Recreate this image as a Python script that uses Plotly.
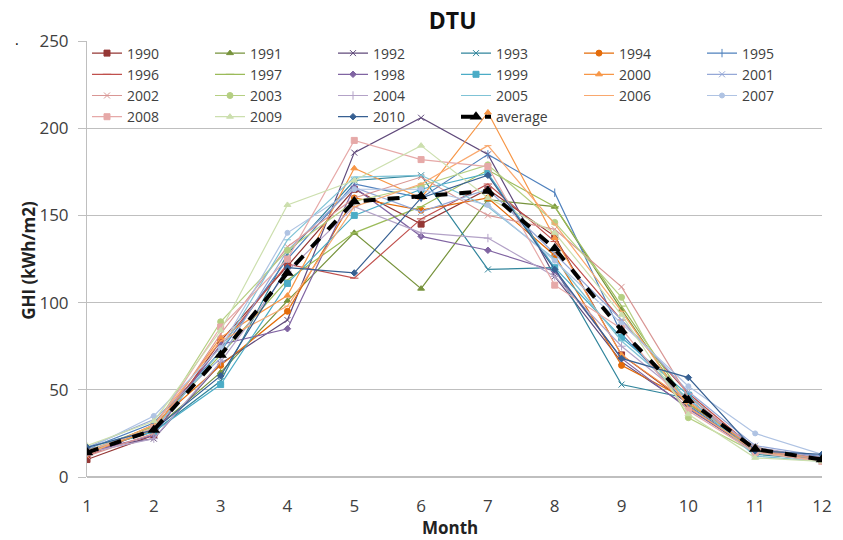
import plotly.graph_objects as go

months = list(range(1, 13))

y1990 = [10, 24, 78, 121, 165, 145, 165, 138, 70, 42, 16, 10]
y1991 = [14, 27, 60, 101, 140, 108, 159, 155, 96, 40, 15, 9]
y1992 = [16, 22, 65, 90, 186, 206, 185, 115, 66, 40, 14, 9]
y1993 = [15, 26, 55, 128, 170, 173, 119, 120, 53, 45, 13, 10]
y1994 = [13, 30, 64, 95, 160, 153, 160, 127, 64, 44, 17, 10]
y1995 = [16, 31, 72, 125, 168, 160, 185, 163, 82, 41, 15, 12]
y1996 = [12, 28, 75, 122, 114, 148, 168, 135, 90, 48, 16, 11]
y1997 = [15, 29, 70, 113, 140, 155, 176, 155, 98, 42, 17, 10]
y1998 = [14, 24, 76, 85, 166, 138, 130, 118, 68, 39, 15, 9]
y1999 = [15, 26, 53, 111, 150, 165, 174, 120, 80, 47, 14, 10]
y2000 = [14, 27, 80, 104, 177, 160, 209, 137, 70, 43, 16, 10]
y2001 = [17, 33, 68, 130, 166, 152, 165, 128, 90, 49, 18, 12]
y2002 = [12, 25, 82, 132, 160, 172, 150, 142, 109, 46, 16, 10]
y2003 = [15, 28, 89, 130, 158, 167, 179, 146, 103, 34, 14, 9]
y2004 = [14, 22, 66, 118, 155, 140, 137, 115, 75, 44, 17, 11]
y2005 = [17, 27, 72, 136, 172, 173, 155, 125, 78, 45, 12, 9]
y2006 = [13, 30, 78, 98, 155, 168, 190, 145, 95, 40, 15, 9]
y2007 = [16, 35, 74, 140, 165, 165, 156, 124, 88, 52, 25, 13]
y2008 = [15, 28, 86, 125, 193, 182, 178, 110, 85, 38, 14, 9]
y2009 = [18, 32, 84, 156, 170, 190, 160, 140, 93, 36, 11, 9]
y2010 = [17, 27, 58, 120, 117, 160, 173, 119, 68, 57, 15, 13]
average = [14, 27, 70, 117, 158, 161, 164, 131, 84, 44, 16, 10]

series = [
    ("1990", y1990, "#953735", "square", 6),
    ("1991", y1991, "#77933C", "triangle-up", 6),
    ("1992", y1992, "#604A7B", "x-thin-open", 6),
    ("1993", y1993, "#31859C", "x-thin-open", 6),
    ("1994", y1994, "#E46C0A", "circle", 6),
    ("1995", y1995, "#4F81BD", "line-ns-open", 6),
    ("1996", y1996, "#C0504D", "line-ew-open", 6),
    ("1997", y1997, "#9BBB59", "line-ew-open", 6),
    ("1998", y1998, "#8064A2", "diamond", 5),
    ("1999", y1999, "#4BACC6", "square", 6),
    ("2000", y2000, "#F79646", "triangle-up", 6),
    ("2001", y2001, "#95A8D7", "x-thin-open", 6),
    ("2002", y2002, "#D99694", "x-thin-open", 6),
    ("2003", y2003, "#B5CF82", "circle", 6),
    ("2004", y2004, "#B3A2C7", "cross-thin-open", 6),
    ("2005", y2005, "#7FC3D6", "line-ew-open", 5),
    ("2006", y2006, "#F9A86E", "line-ew-open", 5),
    ("2007", y2007, "#AFC3E3", "circle", 5),
    ("2008", y2008, "#E6A9A8", "square", 6),
    ("2009", y2009, "#CCDFAE", "triangle-up", 6),
    ("2010", y2010, "#376092", "diamond", 5),
]

fig = go.Figure()
for name, vals, col, sym, sz in series:
    fig.add_trace(go.Scatter(
        x=months, y=vals, name=name, mode="lines+markers",
        line=dict(color=col, width=1.2),
        marker=dict(color=col, symbol=sym, size=sz, line=dict(color=col, width=1)),
    ))
fig.add_trace(go.Scatter(
    x=months, y=average, name="average", mode="lines+markers",
    line=dict(color="black", width=4, dash="dash"),
    marker=dict(color="black", symbol="triangle-up", size=11),
))

font_family = "Open Sans, Liberation Sans, Arial, sans-serif"
fig.update_layout(
    width=843, height=540,
    margin=dict(l=87, r=11, t=41, b=63),
    paper_bgcolor="white", plot_bgcolor="white",
    font=dict(family=font_family, color="#404040", size=15),
    title=dict(text="<b>DTU</b>", x=0.537, xanchor="center", y=0.962, yanchor="middle",
               font=dict(size=23, color="#111", family=font_family)),
    showlegend=True,
    legend=dict(orientation="h", x=0.0, y=1.008, xanchor="left", yanchor="top",
                bgcolor="rgba(0,0,0,0)", entrywidth=78, entrywidthmode="pixels",
                font=dict(size=14, color="#404040", family=font_family),
                tracegroupgap=0, itemwidth=30),
    xaxis=dict(range=[1, 12], tickvals=months, showgrid=False, zeroline=False,
               showline=False, ticks="", ticklabelstandoff=17,
               tickfont=dict(size=17, color="#404040")),
    yaxis=dict(range=[0, 250], tickvals=[0, 50, 100, 150, 200, 250], showgrid=True,
               gridcolor="#BFBFBF", gridwidth=1, zeroline=True, zerolinecolor="#BFBFBF",
               showline=True, linecolor="#BFBFBF", ticks="outside", ticklen=8,
               tickcolor="#BFBFBF", ticklabelstandoff=6,
               tickfont=dict(size=17, color="#404040")),
)
fig.add_annotation(text="<b>Month</b>", xref="paper", yref="paper",
                   x=(455 - 87) / 745, y=(477 - 527) / 436, xanchor="center", yanchor="middle",
                   showarrow=False, font=dict(size=17, color="#222", family=font_family))
fig.add_annotation(text="<b>GHI (kWh/m2)</b>", xref="paper", yref="paper",
                   x=(27 - 87) / 745, y=(477 - 260) / 436, xanchor="center", yanchor="middle",
                   textangle=-90, showarrow=False,
                   font=dict(size=17, color="#222", family=font_family))
fig.add_annotation(text=".", xref="paper", yref="paper", x=(12 - 87) / 745, y=1.03,
                   showarrow=False, font=dict(size=14, color="black"))
fig.write_html("out.html")
